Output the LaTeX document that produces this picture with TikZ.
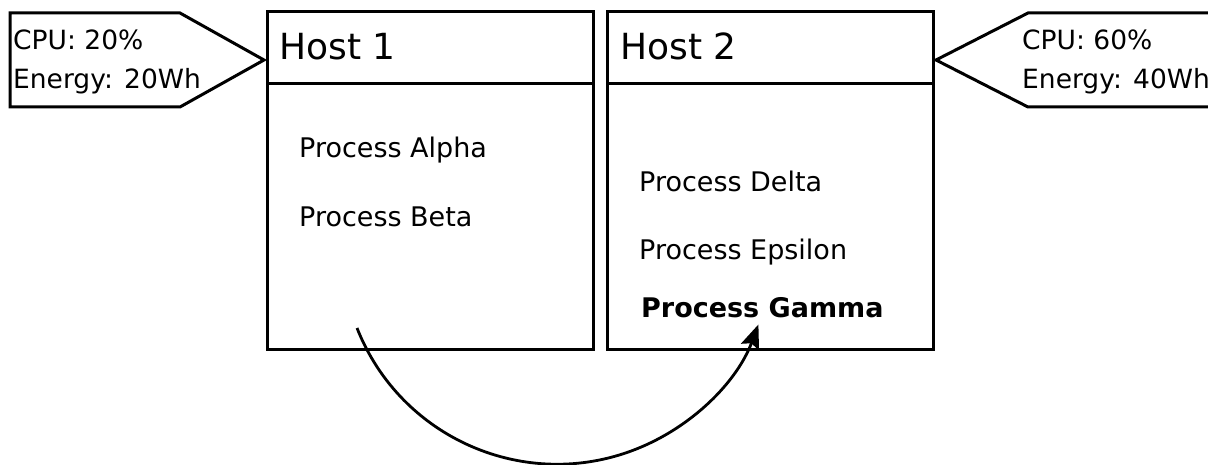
\documentclass[tikz,border=0pt]{standalone}
\usepackage{fontspec}
\setmainfont{DejaVu Sans}
\usetikzlibrary{arrows.meta}
\tikzset{
  hostbox/.style={draw, line width=3pt, minimum width=326pt, minimum height=337pt, anchor=north west, inner sep=0pt, outer sep=0pt},
  hosttitle/.style={anchor=base west, inner sep=0pt, font=\fontsize{36}{40}\selectfont},
  proc/.style={anchor=base west, inner sep=0pt, font=\fontsize{27}{30}\selectfont},
  info/.style={anchor=base west, inner sep=0pt, font=\fontsize{26.5}{30}\selectfont},
  callout/.style={draw, line width=3pt, line join=miter},
  migrate/.style={line width=2.8pt, -{Stealth[length=24pt,width=19pt,inset=4pt]}}
}
\begin{document}
\begin{tikzpicture}[x=1pt, y=-1pt]
\useasboundingbox (0,0) rectangle (1208,465);
\clip (0,0) rectangle (1208,465);

% hosts
\node[hostbox] (h1) at (267,12) {};
\node[hostbox] (h2) at (607,12) {};
\draw[line width=3pt] (h1.west |- 0,84) -- (h1.east |- 0,84);
\draw[line width=3pt] (h2.west |- 0,84) -- (h2.east |- 0,84);
\node[hosttitle] (t1) at (279,60) {Host 1};
\node[hosttitle] (t2) at (620,60) {Host 2};

% processes
\node[proc] (alpha) at (299,158) {Process Alpha};
\node[proc] (beta) at (299,227) {Process Beta};
\node[proc] (delta) at (639,192) {Process Delta};
\node[proc] (eps) at (639,260) {Process Epsilon};
\node[proc, font=\fontsize{27}{30}\selectfont\bfseries] (gamma) at (641,317) {Process Gamma};

% load callouts
\draw[callout] (10,13) -- (180,13) -- (264,60) -- (180,107) -- (10,107) -- cycle;
\node[info] (cpu1) at (13,50) {CPU: 20\%};
\node[info] (en1) at (13,89) {Energy: 20Wh};
\draw[callout] (1230,13) -- (1028,13) -- (936,60) -- (1028,107) -- (1230,107);
\node[info] (cpu2) at (1022,50) {CPU: 60\%};
\node[info] (en2) at (1022,89) {Energy: 40Wh};

% migration of Gamma from Host 1 to Host 2
\coordinate (src) at (357,328);
\draw[migrate] (src) arc[start angle=158.5, end angle=20.5, radius=215];
\end{tikzpicture}
\end{document}
